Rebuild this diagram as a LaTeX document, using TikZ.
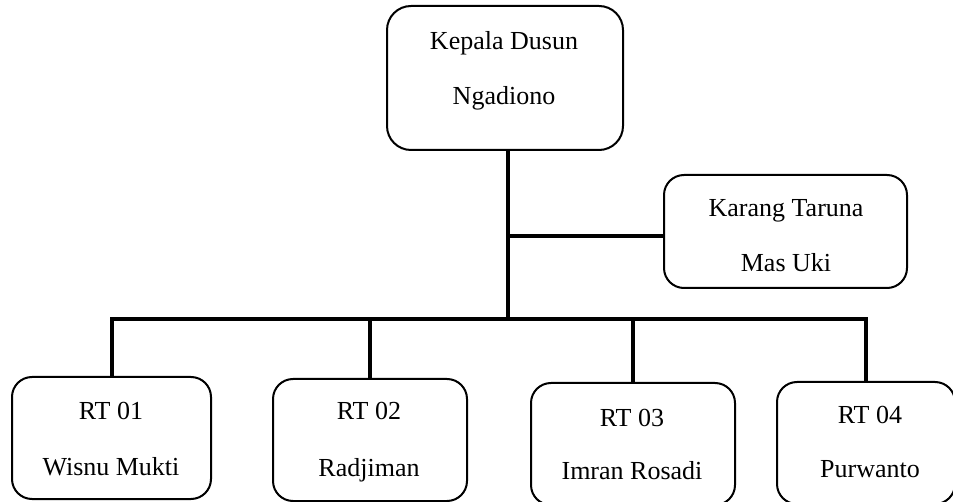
\documentclass[tikz,border=0pt]{standalone}
\usepackage{fontspec}
\setmainfont{Liberation Serif}
\begin{document}
\begin{tikzpicture}[x=1pt,y=-1pt,
  box/.style={draw,line width=2pt,rounded corners=20pt,inner sep=0pt},
  conn/.style={line width=4pt,line join=miter},
  txt/.style={font=\fontsize{26pt}{30pt}\selectfont,anchor=base,inner sep=0pt}]
\useasboundingbox (0,0) rectangle (953,502);
\clip (0,0) rectangle (953,502);
% boxes
\node[box,rounded corners=24pt,minimum width=236pt,minimum height=144pt] (top) at (505,78) {};
\node[box,minimum width=243pt,minimum height=113pt] (kt) at (785.5,231.5) {};
\node[box,minimum width=199pt,minimum height=122pt] (b1) at (111.5,438) {};
\node[box,minimum width=194pt,minimum height=122pt] (b2) at (370,440) {};
\node[box,minimum width=204pt,minimum height=122pt] (b3) at (633,444) {};
\node[box,minimum width=178pt,minimum height=122pt] (b4) at (866,443) {};
% texts
\node[txt] (t1) at (504,50) {Kepala Dusun};
\node[txt] (t2) at (504,105) {Ngadiono};
\node[txt] (k1) at (786,217) {Karang Taruna};
\node[txt] (k2) at (786,272) {Mas Uki};
\node[txt] (r1a) at (111,420) {RT 01};
\node[txt] (r1b) at (111,475) {Wisnu Mukti};
\node[txt] (r2a) at (369,420) {RT 02};
\node[txt] (r2b) at (369,476) {Radjiman};
\node[txt] (r3a) at (632,426) {RT 03};
\node[txt] (r3b) at (632,479) {Imran Rosadi};
\node[txt] (r4a) at (870,423) {RT 04};
\node[txt] (r4b) at (870,477) {Purwanto};
% connectors
\coordinate (j) at (508,319);
\coordinate (k) at (508,236);
\draw[conn] (top.south -| j) -- (j);
\draw[conn] (k) -- (k -| kt.west);
\draw[conn] (b1.north) -- (b1.north |- j) -- (b4.north |- j) -- (b4.north);
\draw[conn] (b2.north) -- (b2.north |- j);
\draw[conn] (b3.north) -- (b3.north |- j);
\end{tikzpicture}
\end{document}
